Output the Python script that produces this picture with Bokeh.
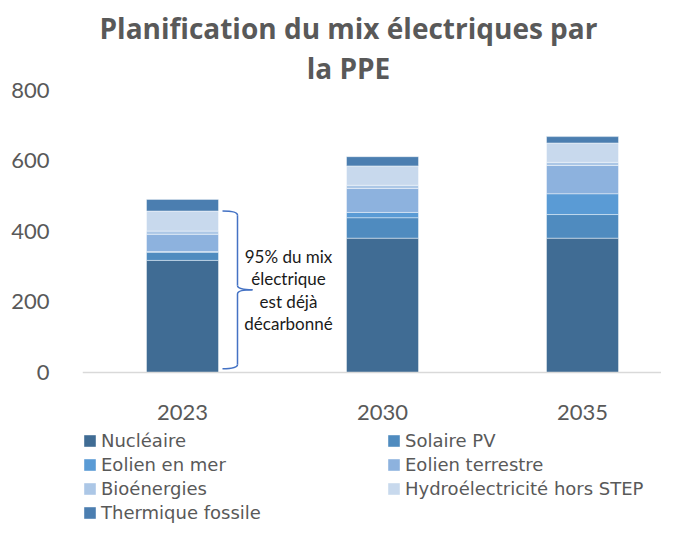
from bokeh.plotting import figure
from bokeh.models import (Range1d, FixedTicker, ColumnDataSource, Legend,
                          LegendItem, Label)
from bokeh.core.properties import value
from bokeh.embed import file_html
from bokeh.resources import INLINE

# ---- data -------------------------------------------------------------
years = ["2023", "2030", "2035"]
series = ["Nucléaire", "Solaire PV", "Eolien en mer", "Eolien terrestre",
          "Bioénergies", "Hydroélectricité hors STEP", "Thermique fossile"]
nucleaire = [318, 381, 381]
solaire_pv = [23, 58, 67]
eolien_mer = [2, 15, 59]
eolien_terrestre = [49, 68, 80]
bioenergies = [9, 9, 9]
hydro = [57, 55, 55]
thermique_fossile = [33, 26, 18]
y_ticks = [0, 200, 400, 600, 800]
title_lines = ["Planification du mix électriques par", "la PPE"]
annotation = "95% du mix\nélectrique\nest déjà\ndécarbonné"

colors = ["#406C94", "#4F8BBF", "#5A9BD5", "#8DB2DE", "#ACC7E6", "#C8D9ED", "#4B7EB0"]
keys = ["nuc", "sol", "mer", "ter", "bio", "hyd", "the"]
GREY = "#595959"
FONT = "Lato"
TFONT = "Open Sans"
LFONT = "DejaVu Sans"

x_pos = [i + 0.5 for i in range(len(years))]
source = ColumnDataSource(dict(x=x_pos, nuc=nucleaire, sol=solaire_pv, mer=eolien_mer,
                               ter=eolien_terrestre, bio=bioenergies, hyd=hydro,
                               the=thermique_fossile))

# plot area spans the full height; the value axis only shows 0..800
p = figure(width=661, height=524, output_backend="svg", toolbar_location=None,
           x_range=Range1d(0, 2.895), y_range=Range1d(-431, 1055),
           min_border_left=82, min_border_right=0, min_border_top=0,
           min_border_bottom=0)
p.outline_line_color = None
p.xgrid.visible = False
p.ygrid.visible = False

rs = p.vbar_stack(keys, x="x", width=0.36, source=source, color=colors,
                  line_color="white", line_width=0.6, line_alpha=0.7)

# axes
p.xaxis.fixed_location = 0
p.xaxis.ticker = FixedTicker(ticks=x_pos)
p.xaxis.major_label_overrides = {x: y for x, y in zip(x_pos, years)}
p.xaxis.axis_line_color = "#D9D9D9"
p.xaxis.axis_line_width = 1.5
p.xaxis.major_tick_line_color = None
p.xaxis.minor_tick_line_color = None
p.xaxis.major_label_standoff = 26
p.xaxis.major_label_text_font = FONT
p.xaxis.major_label_text_font_size = "22px"
p.xaxis.major_label_text_color = GREY

p.yaxis.ticker = FixedTicker(ticks=y_ticks)
p.yaxis.axis_line_color = None
p.yaxis.major_tick_line_color = None
p.yaxis.minor_tick_line_color = None
p.yaxis.major_label_standoff = 27
p.yaxis.major_label_text_font = FONT
p.yaxis.major_label_text_font_size = "22px"
p.yaxis.major_label_text_color = GREY

# title (two centred lines above the bars)
for txt, ty in zip(title_lines, [976, 864]):
    p.add_layout(Label(x=1.33, y=ty, text=txt, text_align="center",
                       text_baseline="middle", text_font=TFONT,
                       text_font_size="28px", text_font_style="bold",
                       text_color=GREY))

# brace + annotation
clean_top = sum(v[0] for v in [nucleaire, solaire_pv, eolien_mer, eolien_terrestre,
                               bioenergies, hydro])
B = 11
T = clean_top
M = (T + B) / 2
r = 12
xa, xb, xc = 0.70, 0.775, 0.85
bc = "#4472C4"
p.quadratic(x0=[xa, xb, xb, xa], y0=[T, M + r, M - r, B],
            x1=[xb, xc, xc, xb], y1=[T - r, M, M, B + r],
            cx=[xb, xb, xb, xb], cy=[T, M, M, B], line_color=bc, line_width=1.5)
p.segment(x0=[xb, xb], y0=[T - r, B + r], x1=[xb, xb], y1=[M + r, M - r],
          line_color=bc, line_width=1.5)
p.text(x=[1.03], y=[M], text=[annotation], text_align="center",
       text_baseline="middle", text_font=value(FONT), text_font_size="17px",
       text_color="#1a1a1a", text_line_height=1.07)

# legend
order = [0, 2, 4, 6, 1, 3, 5]
items = [LegendItem(label=series[i], renderers=[rs[i]]) for i in order]
legend = Legend(items=items, ncols=2, location=(0, 1), margin=0, padding=0,
                glyph_width=15, glyph_height=15, label_standoff=4,
                label_width=282, label_height=21, spacing=3,
                label_text_font=LFONT, label_text_font_size="18px",
                label_text_color=GREY, border_line_color=None,
                background_fill_alpha=0)
p.add_layout(legend, "center")

open("out.html", "w").write(file_html(p, INLINE))
